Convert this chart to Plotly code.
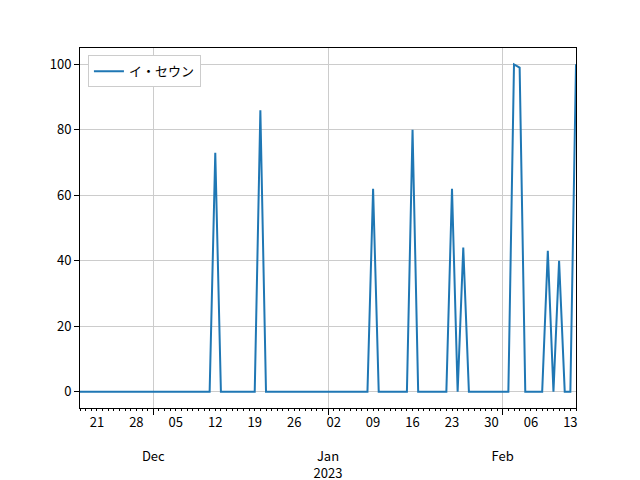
"""
Daily score chart for イ・セウン, Nov 2022 - Feb 2023
"""

import pandas as pd
import plotly.graph_objects as go

FONT = "Noto Sans CJK JP"
LINE_COLOR = "#1f77b4"

# daily values, one list per month
nov_values = [0, 0, 0, 0, 0, 0, 0, 0, 0, 0, 0, 0, 0]  # Nov 18 - 30
dec_values = [0, 0, 0, 0, 0, 0, 0, 0, 0, 0, 0, 73, 0, 0, 0, 0, 0, 0, 0, 86,
              0, 0, 0, 0, 0, 0, 0, 0, 0, 0, 0]
jan_values = [0, 0, 0, 0, 0, 0, 0, 0, 62, 0, 0, 0, 0, 0, 0, 80, 0, 0, 0, 0,
              0, 0, 62, 0, 44, 0, 0, 0, 0, 0, 0]
feb_values = [0, 0, 100, 99, 0, 0, 0, 0, 43, 0, 40, 0, 0, 100]  # Feb 1 - 14

values = nov_values + dec_values + jan_values + feb_values
dates = pd.date_range("2022-11-18", periods=len(values), freq="D")

week_ticks = pd.date_range("2022-11-21", "2023-02-13", freq="7D")
week_labels = [d.strftime("%d") for d in week_ticks]
month_ticks = pd.to_datetime(["2022-12-01", "2023-01-01", "2023-02-01"])
month_labels = ["Dec", "Jan<br>2023", "Feb"]

x_range = [dates[0], dates[-1]]

fig = go.Figure()

fig.add_trace(go.Scatter(
    x=dates,
    y=values,
    mode="lines",
    name="イ・セウン",
    line=dict(color=LINE_COLOR, width=2),
))

# month axis only carries the month gridlines and labels
fig.add_trace(go.Scatter(
    x=dates,
    y=values,
    mode="lines",
    xaxis="x2",
    showlegend=False,
    hoverinfo="skip",
    line=dict(color="rgba(0,0,0,0)", width=0),
))

# the page body adds an 8px offset, so the figure is a bit smaller
fig.update_layout(
    width=632,
    height=472,
    margin=dict(l=72, r=64, t=40, b=72),
    paper_bgcolor="white",
    plot_bgcolor="white",
    font=dict(family=FONT, size=13, color="black"),
    showlegend=True,
    legend=dict(
        x=0.016, y=0.98, xanchor="left", yanchor="top",
        bgcolor="white", bordercolor="#cccccc", borderwidth=1,
        font=dict(family=FONT, size=13),
    ),
    xaxis=dict(
        range=x_range,
        automargin=False,
        tickmode="array",
        tickvals=week_ticks,
        ticktext=week_labels,
        ticks="outside",
        ticklen=2,
        tickcolor="black",
        showgrid=False,
        zeroline=False,
        showline=True,
        linecolor="black",
        linewidth=1,
        mirror=True,
        minor=dict(dtick=86400000, ticks="outside", ticklen=2,
                   tickcolor="black", showgrid=False),
    ),
    xaxis2=dict(
        range=x_range,
        automargin=False,
        overlaying="x",
        side="bottom",
        tickmode="array",
        tickvals=month_ticks,
        ticktext=month_labels,
        ticks="outside",
        ticklen=6,
        tickcolor="black",
        ticklabelstandoff=30,
        showgrid=True,
        gridcolor="#cccccc",
        gridwidth=1,
        zeroline=False,
        showline=False,
    ),
    yaxis=dict(
        range=[-5, 105],
        automargin=False,
        tickmode="linear",
        tick0=0,
        dtick=20,
        ticks="outside",
        ticklen=5,
        tickcolor="black",
        showgrid=True,
        gridcolor="#cccccc",
        gridwidth=1,
        zeroline=False,
        showline=True,
        linecolor="black",
        linewidth=1,
        mirror=True,
    ),
)

fig.write_html("out.html")
